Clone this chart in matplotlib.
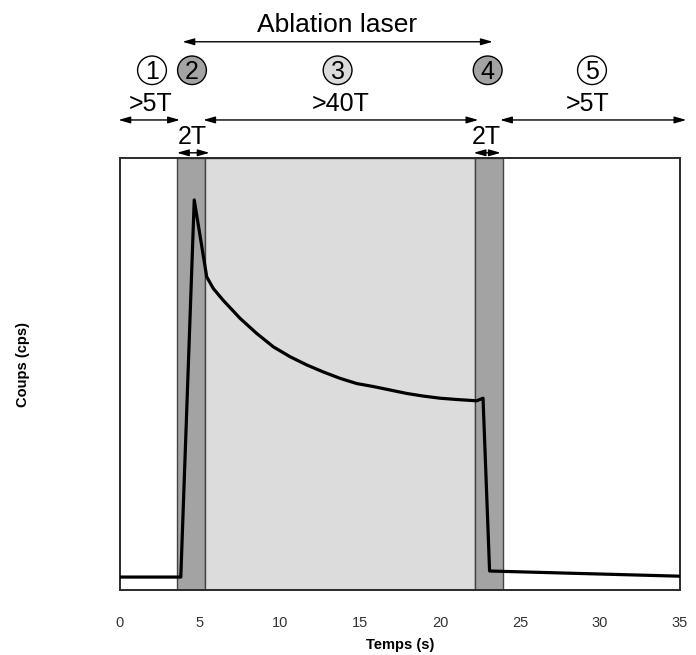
import matplotlib
matplotlib.use('Agg')
import matplotlib.pyplot as plt
from matplotlib.patches import Ellipse
import numpy as np

plt.rcParams['font.family'] = ['Liberation Sans', 'DejaVu Sans']

# signal (time in s, counts in arbitrary units)
temps = [0, 3.8, 4.64, 5.42, 5.83, 6.44, 7.5, 8.54, 9.58, 10.63, 11.67, 12.69, 13.75,
         14.79, 15.83, 16.88, 17.92, 18.94, 20.0, 21.04, 22.29, 22.69, 23.1, 35.0]
coups = [3.0, 3.0, 90.3, 72.5, 69.8, 67.1, 62.9, 59.4, 56.3, 54.0, 52.1, 50.5, 49.0,
         47.8, 47.1, 46.3, 45.5, 44.9, 44.4, 44.1, 43.8, 44.4, 4.4, 3.2]

# phases: (start, end, fill colour)
phases_start = [3.54, 5.33, 22.19]
phases_end = [5.33, 22.19, 23.92]
phases_color = ['#a3a3a3', '#dcdcdc', '#a3a3a3']

xticks = [0, 5, 10, 15, 20, 25, 30, 35]

# circled step labels
steps = ['1', '2', '3', '4', '5']
steps_x = [2.0, 4.5, 13.6, 22.98, 29.5]
steps_fill = ['white', '#a3a3a3', '#dcdcdc', '#a3a3a3', 'white']

# duration arrows
dur_labels = ['>5T', '>40T', '>5T']
dur_text_x = [1.9, 13.8, 29.2]
dur_x0 = [-0.1, 5.2, 23.75]
dur_x1 = [3.75, 22.4, 35.4]
short_labels = ['2T', '2T']
short_text_x = [4.5, 22.9]
short_x0 = [3.56, 22.1]
short_x1 = [5.6, 23.8]

fig = plt.figure(figsize=(6.96, 6.55), dpi=100)
ax = fig.add_axes([0.1724, 0.0992, 0.8046, 0.6596])

for x0, x1, c in zip(phases_start, phases_end, phases_color):
    ax.axvspan(x0, x1, facecolor=c, edgecolor='#444444', linewidth=1.0, zorder=1)

ax.plot(temps, coups, color='black', linewidth=2.3, zorder=3)

ax.set_xlim(0, 35)
ax.set_ylim(0, 100)
ax.set_xticks(xticks)
ax.set_yticks([])
ax.tick_params(axis='x', length=0, pad=18.5, labelsize=10.5, labelcolor='#333333')
for s in ax.spines.values():
    s.set_linewidth(1.4)
    s.set_color('#2a2a2a')

ax.set_xlabel('Temps (s)', fontsize=10.5, fontweight='bold', labelpad=6)
ax.set_ylabel('Coups (cps)', fontsize=10.5, fontweight='bold')
ax.yaxis.set_label_coords(-0.16, 0.523)

tr = ax.get_xaxis_transform()
arrow_kw = dict(arrowstyle='<|-|>,head_length=0.7,head_width=0.2', color='black', lw=1.0,
                shrinkA=0, shrinkB=0)

# ablation laser
ax.text(13.55, 1.308, 'Ablation laser', transform=tr, ha='center', va='center', fontsize=19)
ax.annotate('', xy=(3.9, 1.269), xytext=(23.3, 1.269), xycoords=tr, textcoords=tr,
            arrowprops=arrow_kw, annotation_clip=False)

for lab, x, fc in zip(steps, steps_x, steps_fill):
    ax.add_patch(Ellipse((x, 1.203), 1.8, 0.066, transform=tr, facecolor=fc,
                         edgecolor='black', linewidth=1.0, clip_on=False))
    ax.text(x, 1.2, lab, transform=tr, ha='center', va='center', fontsize=18)

for lab, xt, x0, x1 in zip(dur_labels, dur_text_x, dur_x0, dur_x1):
    ax.text(xt, 1.125, lab, transform=tr, ha='center', va='center', fontsize=18)
    ax.annotate('', xy=(x0, 1.088), xytext=(x1, 1.088), xycoords=tr, textcoords=tr,
                arrowprops=arrow_kw, annotation_clip=False)

for lab, xt, x0, x1 in zip(short_labels, short_text_x, short_x0, short_x1):
    ax.text(xt, 1.048, lab, transform=tr, ha='center', va='center', fontsize=18)
    ax.annotate('', xy=(x0, 1.012), xytext=(x1, 1.012), xycoords=tr, textcoords=tr,
                arrowprops=arrow_kw, annotation_clip=False)

fig.savefig('out.png', dpi=100)
